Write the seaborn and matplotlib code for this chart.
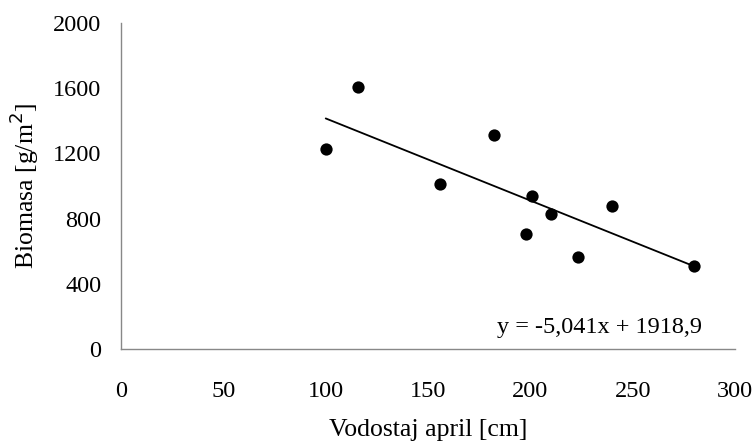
import matplotlib
matplotlib.use("Agg")
import matplotlib.pyplot as plt
import seaborn as sns
import pandas as pd

# Data
water_level = [100, 116, 156, 182, 198, 201, 210, 223, 240, 280]
biomass = [1225, 1609, 1010, 1313, 706, 940, 828, 562, 879, 511]
slope = -5.041
intercept = 1918.9
x_ticks = [0, 50, 100, 150, 200, 250, 300]
y_ticks = [0, 400, 800, 1200, 1600, 2000]
equation = "y = -5,041x + 1918,9"

sns.set_theme(style="white")
plt.rcParams['font.family'] = ['Liberation Serif', 'DejaVu Serif']

df = pd.DataFrame({"x": water_level, "y": biomass})
xr = [min(water_level), max(water_level)]
trend = pd.DataFrame({"x": xr, "y": [slope * v + intercept for v in xr]})

fig = plt.figure(figsize=(7.54, 4.45), dpi=100)
ax = fig.add_axes([0.1605, 0.2157, 0.8145, 0.7325])

sns.lineplot(data=trend, x="x", y="y", ax=ax, color="black", linewidth=1.3)
sns.scatterplot(data=df, x="x", y="y", ax=ax, color="black", s=78,
                edgecolor="black", linewidth=0, zorder=3)

ax.set_xlim(0, 300)
ax.set_ylim(0, 2000)
ax.set_xticks(x_ticks)
ax.set_yticks(y_ticks)
ax.set_xticklabels([str(t) for t in x_ticks])
ax.set_yticklabels([str(t) for t in y_ticks])
ax.tick_params(axis='both', length=0, labelsize=17.5, colors='black')
ax.tick_params(axis='x', pad=23)
ax.tick_params(axis='y', pad=14)

for side in ['top', 'right']:
    ax.spines[side].set_visible(False)
for side in ['left', 'bottom']:
    ax.spines[side].set_color('#888888')
    ax.spines[side].set_linewidth(1.0)

ax.set_xlabel("Vodostaj april [cm]", fontsize=18.5, color='black', labelpad=12)
ax.set_ylabel("Biomasa [g/m$^2$]", fontsize=18.5, color='black', labelpad=9)

ax.text(0.946, 0.067, equation, transform=ax.transAxes, ha='right',
        va='center', fontsize=17.5, color='black')

fig.savefig("out.png", dpi=100)
